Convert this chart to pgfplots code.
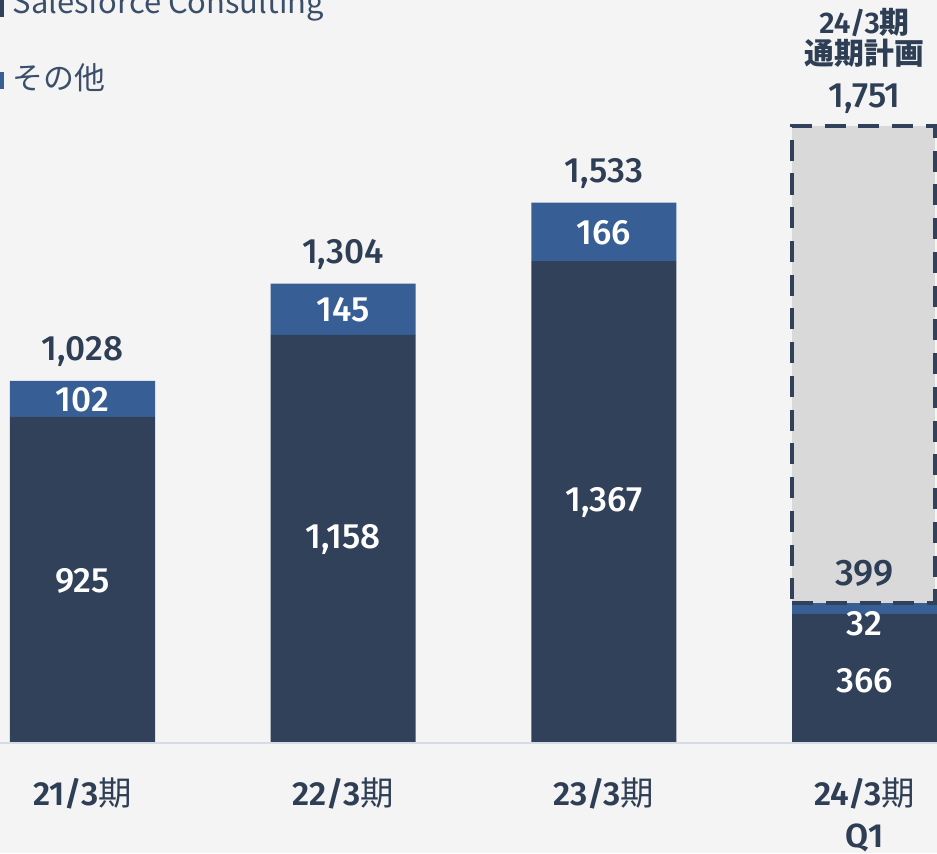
\documentclass[border=0pt]{standalone}
\usepackage{fontspec}
\setmainfont{Fira Sans}[UprightFont=* Medium, BoldFont=* SemiBold]
\newfontfamily\cjk{Noto Sans CJK JP}
\usepackage{pgfplots}
\pgfplotsset{compat=1.18}
\definecolor{bgc}{HTML}{F4F4F4}
\definecolor{navy}{HTML}{304159}
\definecolor{steel}{HTML}{375F95}
\definecolor{planfill}{HTML}{D9D9D9}
\definecolor{txt}{HTML}{2E3E55}
\definecolor{legtxt}{HTML}{3C4F6A}
\definecolor{baseln}{HTML}{D6DCE6}

\pgfplotsset{frame/.style={
    at={(0,0)}, anchor=south west,
    scale only axis, width=9.37cm, height=8.53cm,
    xmin=-0.3165, xmax=3.278, ymin=-312.1, ymax=2107.8,
    axis lines=none, clip=false,
    every node/.style={font=\fontsize{10}{12}\selectfont}}}

\begin{document}
\begin{tikzpicture}
\fill[bgc] (0,0) rectangle (9.37cm,8.53cm);
\begin{axis}[frame, ybar stacked, bar width=0.5563]
  % Salesforce Consulting
  \addplot[fill=navy, draw=none] coordinates {(0,925) (1,1158) (2,1367) (3,366)};
  % その他
  \addplot[fill=steel, draw=none] coordinates {(0,102) (1,145) (2,166) (3,32)};
\end{axis}
\begin{axis}[frame]
  \draw[baseln, line width=0.6pt] (axis cs:-0.3165,0) -- (axis cs:3.278,0);
  % 24/3期 full-year plan
  \addplot[fill=planfill, draw=navy, line width=1.15pt, dash pattern=on 6pt off 3.6pt]
    coordinates {(2.7220,398) (3.2690,398) (3.2690,1751) (2.7220,1751)} -- cycle;
\end{axis}
\begin{axis}[frame]
  % inside labels
  \node[white] at (axis cs:0,460) {925};
  \node[white] at (axis cs:0,973) {102};
  \node[white] at (axis cs:1,576) {1,158};
  \node[white] at (axis cs:1,1228) {145};
  \node[white] at (axis cs:2,683) {1,367};
  \node[white] at (axis cs:2,1447) {166};
  \node[white] at (axis cs:3,176) {366};
  \node[white] at (axis cs:3,338) {32};
  \node[txt, font=\fontsize{10.5}{12}\selectfont] at (axis cs:3,482) {399};
  % totals
  \node[txt] at (axis cs:0,1110) {1,028};
  \node[txt] at (axis cs:1,1386) {1,304};
  \node[txt] at (axis cs:2,1615) {1,533};
  \node[txt] at (axis cs:3,1827) {1,751};
  \node[txt, font=\fontsize{8.5}{10}\selectfont\bfseries] at (axis cs:3,2045) {24/3{\cjk 期}};
  \node[txt, font=\fontsize{8.5}{10}\selectfont\cjk\bfseries] at (axis cs:3,1957) {通期計画};
  % categories
  \node[txt, font=\fontsize{9.5}{12}\selectfont\bfseries] at (axis cs:0,-142) {21/3{\cjk\mdseries 期}};
  \node[txt, font=\fontsize{9.5}{12}\selectfont\bfseries] at (axis cs:1,-142) {22/3{\cjk\mdseries 期}};
  \node[txt, font=\fontsize{9.5}{12}\selectfont\bfseries] at (axis cs:2,-142) {23/3{\cjk\mdseries 期}};
  \node[txt, font=\fontsize{9.5}{12}\selectfont\bfseries] at (axis cs:3,-142) {24/3{\cjk\mdseries 期}};
  \node[txt, font=\fontsize{9.5}{12}\selectfont\bfseries] at (axis cs:3,-270) {Q1};
  % legend
  \fill[navy] (axis cs:-0.3165,2060) rectangle (axis cs:-0.3012,2115);
  \node[legtxt, anchor=west, inner xsep=0pt, font=\fontsize{8.8}{10}\selectfont\cjk] at (axis cs:-0.2705,2093) {Salesforce Consulting};
  \fill[steel] (axis cs:-0.3165,1855) rectangle (axis cs:-0.3012,1905);
  \node[legtxt, anchor=west, inner xsep=0pt, font=\fontsize{8.8}{10}\selectfont\cjk] at (axis cs:-0.2705,1886) {その他};
\end{axis}
\pgfresetboundingbox
\path[use as bounding box] (0,0) rectangle (9.37cm,8.53cm);
\end{tikzpicture}
\end{document}
